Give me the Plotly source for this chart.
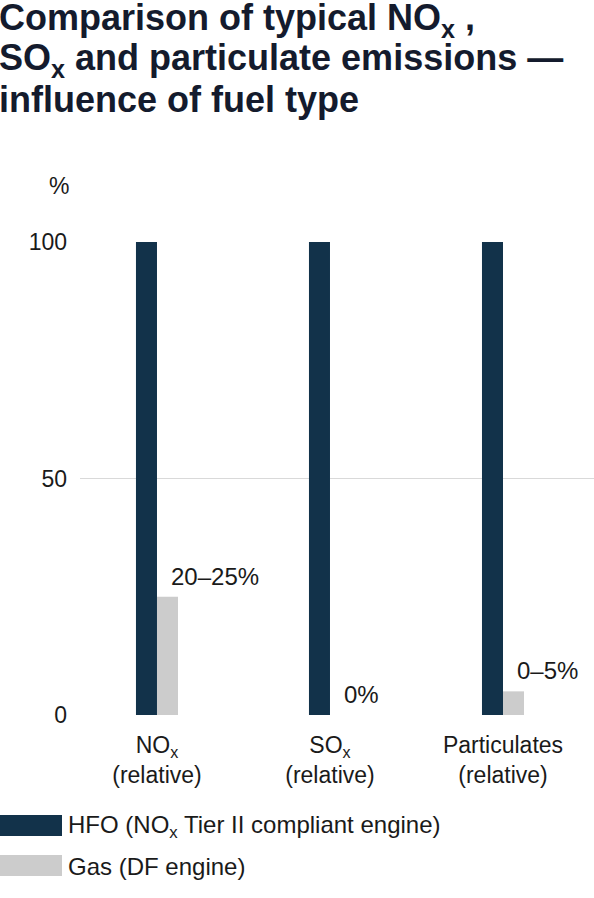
import plotly.graph_objects as go

# Chart data
categories = ["NO<sub>x</sub><br>(relative)", "SO<sub>x</sub><br>(relative)", "Particulates<br>(relative)"]
hfo_values = [100, 100, 100]
gas_values = [25, 0, 5]
gas_labels = ["20–25%", "0%", "0–5%"]
y_ticks = [0, 50, 100]
series_names = ["HFO (NO<sub>x</sub> Tier II compliant engine)", "Gas (DF engine)"]
title_lines = ["Comparison of typical NO<sub>x</sub> ,",
               "SO<sub>x</sub> and particulate emissions —",
               "influence of fuel type"]

NAVY = "#12324a"
GREY = "#cccccc"
INK = "#1a1a1a"
FONT = "Liberation Sans, Arial, sans-serif"

W, H = 594, 898
L, R, T, B = 80, 0, 242, 183
pw, ph = W - L - R, H - T - B


def px_x(p):
    # page pixel -> paper x
    return (p - L) / pw


def px_y(p):
    # page pixel -> paper y
    return (H - B - p) / ph


fig = go.Figure()
fig.add_trace(go.Bar(x=categories, y=hfo_values, name=series_names[0],
                     marker=dict(color=NAVY, line_width=0)))
fig.add_trace(go.Bar(x=categories, y=gas_values, name=series_names[1],
                     marker=dict(color=GREY, line_width=0)))

# value labels next to gas bars
for cat, val, lab in zip(categories, gas_values, gas_labels):
    fig.add_annotation(x=cat, y=val, text=lab, showarrow=False,
                       xanchor="left", yanchor="bottom", xshift=12, yshift=5,
                       font=dict(size=24, color=INK))

# "%" unit label
fig.add_annotation(xref="paper", yref="paper", x=0, y=px_y(186),
                   text="%", showarrow=False, xanchor="right", yanchor="middle",
                   xshift=-9, font=dict(size=23, color=INK))

# title, one annotation per line for tighter leading
for i, line in enumerate(title_lines):
    fig.add_annotation(xref="paper", yref="paper", x=px_x(-2), y=px_y(20 + 40 * i),
                       text=line, showarrow=False, xanchor="left", yanchor="middle",
                       borderpad=0,
                       font=dict(family=FONT, size=36, color="#141b2d", weight="bold"))

# custom legend with wide swatches
for i, (name, col) in enumerate(zip(series_names, [NAVY, GREY])):
    top = 815 + i * 40
    fig.add_shape(type="rect", xref="paper", yref="paper",
                  x0=px_x(0), x1=px_x(62), y0=px_y(top + 21), y1=px_y(top),
                  fillcolor=col, line_width=0)
    fig.add_annotation(xref="paper", yref="paper", x=px_x(66), y=px_y(top + 11),
                       text=name, showarrow=False, xanchor="left", yanchor="middle",
                       font=dict(size=24, color=INK))

fig.update_layout(
    width=W, height=H,
    margin=dict(l=L, r=R, t=T, b=B),
    paper_bgcolor="white", plot_bgcolor="white",
    font=dict(family=FONT, size=23, color=INK),
    barmode="group", bargap=0.757, bargroupgap=0,
    showlegend=False,
)
fig.update_xaxes(range=[-0.445, 2.526], showgrid=False, showline=False, ticks="",
                 ticklabelstandoff=14, tickfont=dict(size=23, color=INK))
fig.update_yaxes(range=[0, 100], tickvals=y_ticks, showgrid=True, gridcolor="#d9d9d9",
                 gridwidth=1, zeroline=False, showline=False, ticks="",
                 ticklabelstandoff=12, tickfont=dict(size=23, color=INK))

# drop the default page margin so the figure sits at the window's corner
fig.write_html("out.html", config={"displayModeBar": False},
               post_script="document.body.style.margin='0';")
